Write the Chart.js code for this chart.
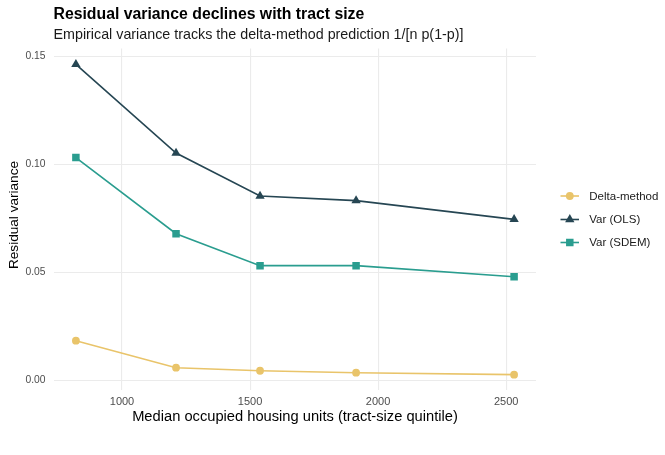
<!DOCTYPE html>
<html>
<head>
<meta charset="utf-8">
<script src="https://cdn.jsdelivr.net/npm/chart.js@4.4.1/dist/chart.umd.min.js"></script>
<style>
  html, body { margin: 0; padding: 0; background: #ffffff; }
  #wrap { width: 665px; height: 455px; position: relative; }
</style>
</head>
<body>
<div id="wrap"><canvas id="c" width="665" height="455"></canvas></div>
<script>
// ---- Data ----
const housingUnits = [820, 1211, 1539, 1914, 2531];
const deltaMethod  = [0.0184, 0.0059, 0.0045, 0.0036, 0.0027];
const varOLS       = [0.1462, 0.1052, 0.0853, 0.0832, 0.0745];
const varSDEM      = [0.1031, 0.0679, 0.0531, 0.0531, 0.0480];
const seriesNames  = ['Delta-method', 'Var (OLS)', 'Var (SDEM)'];
const xTicks       = [1000, 1500, 2000, 2500];
const yTicks       = [0, 0.05, 0.10, 0.15];

const titleText    = 'Residual variance declines with tract size';
const subtitleText = 'Empirical variance tracks the delta-method prediction 1/[n p(1-p)]';
const xTitle       = 'Median occupied housing units (tract-size quintile)';
const yTitle       = 'Residual variance';

const FONT = '"Liberation Sans", Arial, Helvetica, sans-serif';
const colors = ['#E9C46A', '#264653', '#2A9D8F'];
const styles = ['circle', 'triangle', 'rect'];
const radii  = [3.9, 5.4, 5.3];

function pts(ys) { return housingUnits.map((x, i) => ({ x: x, y: ys[i] })); }
const seriesValues = [deltaMethod, varOLS, varSDEM];

const datasets = seriesNames.map((name, i) => ({
  label: name,
  data: pts(seriesValues[i]),
  borderColor: colors[i],
  backgroundColor: colors[i],
  borderWidth: 1.6,
  pointStyle: styles[i],
  pointRadius: radii[i],
  pointHoverRadius: radii[i],
  pointBorderWidth: 0,
  pointBackgroundColor: colors[i],
  tension: 0,
  fill: false
}));

const PLOT = { left: 54, right: 536, top: 48.6, bottom: 390.2 };
const W = 665, H = 455;

const decorPlugin = {
  id: 'decor',
  afterDraw(chart) {
    const ctx = chart.ctx;
    ctx.save();
    ctx.fillStyle = '#000000';
    ctx.textAlign = 'left';
    ctx.textBaseline = 'alphabetic';
    ctx.font = 'bold 15.8px ' + FONT;
    ctx.fillText(titleText, 53.5, 19);
    ctx.font = '14.3px ' + FONT;
    ctx.fillStyle = '#1a1a1a';
    ctx.fillText(subtitleText, 53.5, 38.6);

    // axis titles
    const ca = chart.chartArea;
    ctx.fillStyle = '#000000';
    ctx.font = '14.7px ' + FONT;
    ctx.textAlign = 'center';
    ctx.fillText(xTitle, (ca.left + ca.right) / 2, 421.3);
    ctx.save();
    ctx.font = '13.6px ' + FONT;
    ctx.translate(17.6, 215);
    ctx.rotate(-Math.PI / 2);
    ctx.fillText(yTitle, 0, 0);
    ctx.restore();

    // legend
    const legY = [196, 219.5, 242.5];
    ctx.font = '11.5px ' + FONT;
    ctx.textAlign = 'left';
    ctx.textBaseline = 'middle';
    seriesNames.forEach((name, i) => {
      const y = legY[i];
      ctx.strokeStyle = colors[i];
      ctx.lineWidth = 1.6;
      ctx.beginPath();
      ctx.moveTo(560.5, y);
      ctx.lineTo(579, y);
      ctx.stroke();
      ctx.fillStyle = colors[i];
      ctx.strokeStyle = colors[i];
      Chart.helpers.drawPoint(ctx, {
        pointStyle: styles[i], radius: radii[i], borderWidth: 0, rotation: 0
      }, 569.8, y);
      ctx.fillStyle = '#1a1a1a';
      ctx.fillText(name, 589.3, y + 0.5);
    });
    ctx.restore();
  }
};

new Chart(document.getElementById('c'), {
  type: 'line',
  data: { datasets: datasets },
  plugins: [decorPlugin],
  options: {
    responsive: false,
    animation: false,
    devicePixelRatio: 1,
    layout: { padding: { left: 0, right: W - PLOT.right, top: PLOT.top, bottom: 0 } },
    plugins: { legend: { display: false }, title: { display: false }, tooltip: { enabled: false } },
    scales: {
      x: {
        type: 'linear',
        min: 734.5,
        max: 2616.5,
        afterBuildTicks(s) { s.ticks = xTicks.map(v => ({ value: v })); },
        afterFit(s) { s.height = H - PLOT.bottom; },
        grid: { color: '#EBEBEB', lineWidth: 1.1, drawTicks: false },
        border: { display: false },
        ticks: {
          padding: 5,
          color: '#4D4D4D',
          font: { family: FONT, size: 11 },
          maxRotation: 0,
          callback: v => String(v)
        }
      },
      y: {
        type: 'linear',
        min: -0.0045,
        max: 0.1535,
        afterBuildTicks(s) { s.ticks = yTicks.map(v => ({ value: v })); },
        afterFit(s) { s.width = PLOT.left; },
        grid: { color: '#EBEBEB', lineWidth: 1.1, drawTicks: false },
        border: { display: false },
        ticks: {
          padding: 8.5,
          color: '#4D4D4D',
          font: { family: FONT, size: 10.3 },
          callback: v => v.toFixed(2)
        }
      }
    }
  }
});
</script>
</body>
</html>
